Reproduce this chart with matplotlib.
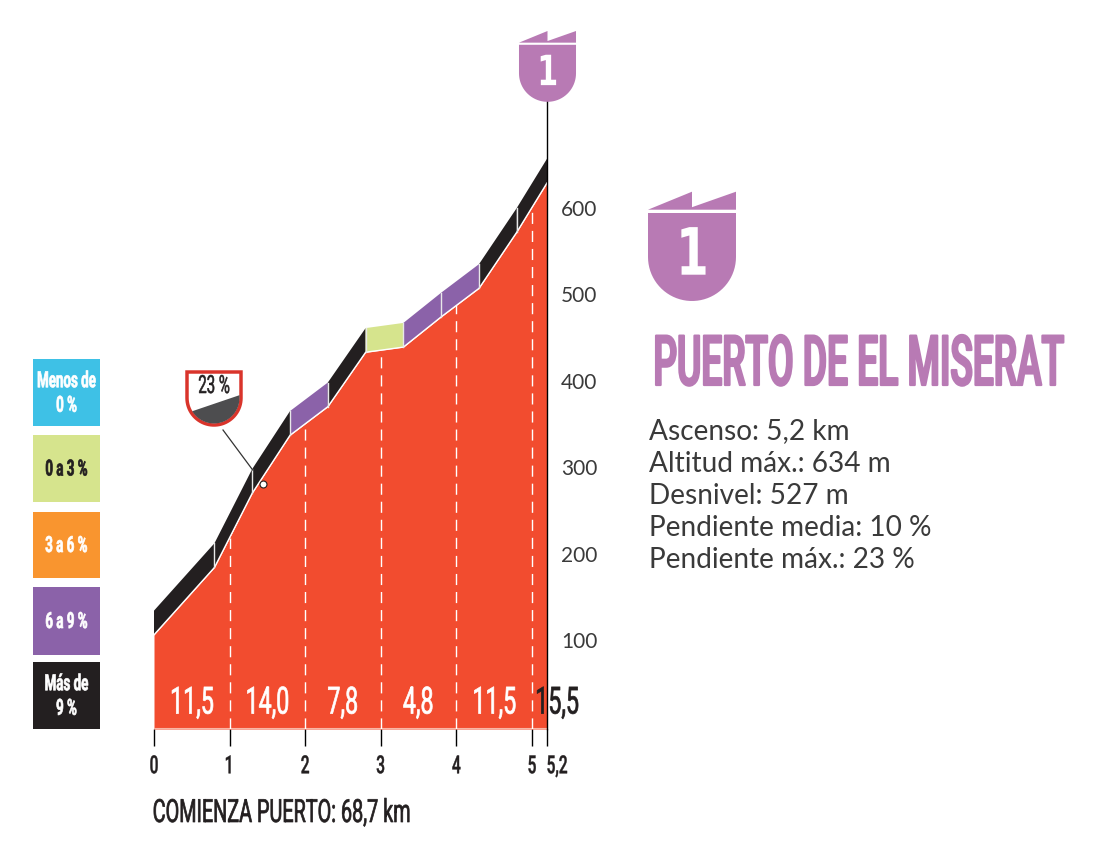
import numpy as np
import matplotlib
matplotlib.use("Agg")
import matplotlib.pyplot as plt
from matplotlib.patches import Polygon, Rectangle
from matplotlib.patheffects import AbstractPathEffect
from matplotlib.transforms import Affine2D, ScaledTranslation

# profile
km = [0, 0.8, 1.3, 1.8, 2.3, 2.8, 3.3, 3.8, 4.3, 4.8, 5.2]
altitude = [106, 184, 270, 337, 370, 433, 439, 474, 507, 572, 629]
band_colors = ["black", "black", "black", "purple", "black", "green", "purple", "purple", "black", "black"]

km_ticks = [0, 1, 2, 3, 4, 5, 5.2]
km_labels = ["0", "1", "2", "3", "4", "5", "5,2"]
alt_ticks = [100, 200, 300, 400, 500, 600]

gradients = ["11,5", "14,0", "7,8", "4,8", "11,5", "15,5"]
gradient_km = [0.5, 1.5, 2.5, 3.5, 4.5, 5.33]
gradient_colors = ["white", "white", "white", "white", "white", "#231f20"]

legend_labels = ["Menos de\n0 %", "0 a 3 %", "3 a 6 %", "6 a 9 %", "Más de\n9 %"]
legend_colors = ["#3ec1e6", "#d6e48d", "#f9952f", "#8b62a9", "#231f20"]
legend_text = ["white", "#231f20", "white", "white", "white"]

title = "PUERTO DE EL MISERAT"
start_text = "COMIENZA PUERTO: 68,7 km"
info_lines = ["Ascenso: 5,2 km", "Altitud máx.: 634 m", "Desnivel: 527 m",
              "Pendiente media: 10 %", "Pendiente máx.: 23 %"]
max_label = "23 %"
max_km = 1.44
max_alt = 281

RED = "#f24c2f"
BADGE = "#b87ab4"
DARK = "#231f20"
palette = {"black": "#231f20", "purple": "#8b62a9", "green": "#d6e48d"}
NARROW = ["Roboto", "DejaVu Sans"]
BAND = 28


class Condense(AbstractPathEffect):
    # squeeze the glyphs sideways, none of the installed fonts is narrow enough
    # stroke thickens the stems again after the squeeze
    def __init__(self, sx, anchor="center", stroke=0):
        super().__init__()
        self.sx = sx
        self.anchor = anchor
        self.stroke = stroke

    def draw_path(self, renderer, gc, tpath, affine, rgbFace=None):
        ext = tpath.get_extents()
        cx = ext.x0 if self.anchor == "left" else (ext.x0 + ext.x1) / 2
        t = Affine2D().translate(-cx, 0).scale(self.sx, 1).translate(cx, 0)
        gc0 = renderer.new_gc()
        gc0.copy_properties(gc)
        if self.stroke:
            gc0.set_linewidth(self.stroke)
            gc0.set_foreground(rgbFace)
        else:
            gc0.set_linewidth(0)
        renderer.draw_path(gc0, tpath, t + affine, rgbFace)
        gc0.restore()


def shield(x0, x1, top, n=40):
    # round bottom of a shield (pixel coords, y down)
    r = (x1 - x0) / 2
    t = np.linspace(np.pi, 0, n)
    return r, np.column_stack([(x0 + x1) / 2 + r * np.cos(t), top + r * np.sin(t)])


fig = plt.figure(figsize=(11, 8.5), dpi=100)
ax = fig.add_axes([154 / 1100, (850 - 729) / 850, 393 / 1100, 629 / 850])
ax.set_xlim(0, 5.2)
ax.set_ylim(-3, 725)
ax.patch.set_visible(False)

top = [a + BAND for a in altitude]
ax.fill_between(km, altitude, -3, color=RED, lw=0, zorder=2)
ax.plot(km, altitude, color="white", lw=1, zorder=4)
ax.axhline(-3, color="#f9b5a5", lw=1.5, zorder=3)
for i, c in enumerate(band_colors):
    pts = [(km[i], altitude[i]), (km[i + 1], altitude[i + 1]), (km[i + 1], top[i + 1]), (km[i], top[i])]
    ax.add_patch(Polygon(pts, closed=True, facecolor=palette[c], edgecolor="none", zorder=3))
    if i > 0:
        ax.plot([km[i], km[i]], [altitude[i], top[i]], color="#e8e8e8", lw=1, zorder=4)

for k in km_ticks[1:-1]:
    ax.plot([k, k], [-3, np.interp(k, km, altitude)], color="white", lw=1, dashes=(8, 5), zorder=4)

for g, k, c in zip(gradients, gradient_km, gradient_colors):
    ax.text(k, 27, g, ha="center", va="center", color=c, fontsize=27, family=NARROW,
            path_effects=[Condense(0.62, stroke=0.5)], zorder=6, clip_on=False)

for s in ["left", "top", "bottom"]:
    ax.spines[s].set_visible(False)
ax.spines["right"].set_color("black")
ax.spines["right"].set_linewidth(1)
ax.spines["right"].set_zorder(5)

ax.set_xticks(km_ticks, km_labels, family=NARROW, weight="medium", fontsize=18, color=DARK)
ax.tick_params(axis="x", length=12.2, width=1, color="black", pad=6)
for lab in ax.get_xticklabels():
    lab.set_path_effects([Condense(0.62, stroke=0.3)])
last = ax.get_xticklabels()[-1]
last.set_transform(last.get_transform() + ScaledTranslation(0.1, 0, fig.dpi_scale_trans))

ax.yaxis.tick_right()
ax.set_yticks(alt_ticks, [str(a) for a in alt_ticks], family="Lato", fontsize=15, color="#3a3a3a")
ax.tick_params(axis="y", length=0, pad=10)

ax.plot([max_km], [max_alt], "o", ms=5, mfc="white", mec=DARK, mew=0.8, zorder=7, clip_on=False)

# everything around the profile is placed in pixels on a second layer
ov = fig.add_axes([0, 0, 1, 1], zorder=10)
ov.set_xlim(0, 1100)
ov.set_ylim(850, 0)
ov.axis("off")

legend_y = [359, 435, 512, 587, 662]
legend_h = [67, 67, 66, 68, 67]
for y, h, lab, c, tc in zip(legend_y, legend_h, legend_labels, legend_colors, legend_text):
    ov.add_patch(Rectangle((33, y), 67, h, facecolor=c, edgecolor="none"))
    ov.text(66.5, y + h / 2 + 1, lab, ha="center", va="center", color=tc, fontsize=16, weight="bold",
            family=NARROW, linespacing=1.15, path_effects=[Condense(0.6, stroke=0.5)])


def badge(cx, top_y, scale, size):
    w = 44 * scale
    body = 213 - 191.7
    r, arc = shield(cx - w, cx + w, top_y + (257 - 191.7) * scale)
    body_top = top_y + body * scale
    pts = [(cx - w, body_top), *arc, (cx + w, body_top)]
    ov.add_patch(Polygon(pts, closed=True, facecolor=BADGE, edgecolor="none"))
    flag = [(cx - w, top_y + 18 * scale), (cx, top_y), (cx, top_y + 15.5 * scale), (cx + w, top_y),
            (cx + w, top_y + 18 * scale)]
    ov.add_patch(Polygon(flag, closed=True, facecolor=BADGE, edgecolor="none"))
    ov.text(cx, top_y + 65 * scale, "1", ha="center", va="center", color="white", fontsize=size,
            family="DejaVu Sans", weight="bold", path_effects=[Condense(0.72)])


badge(692, 191.7, 1, 47)
badge(547.5, 31, 0.648, 30)

r, arc = shield(187, 241, 398)
outline = Polygon([(187, 372), *arc, (241, 372)], closed=True, facecolor="white", edgecolor="#d9342b", lw=2.5, zorder=2)
ov.add_patch(outline)
wedge = Polygon([(190, 412), (240, 395), (240, 430), (190, 430)], closed=True, facecolor="#4d4d4f", edgecolor="none", zorder=3)
ov.add_patch(wedge)
wedge.set_clip_path(Polygon([(188.5, 373), *shield(188.5, 239.5, 398)[1], (239.5, 373)], closed=True, transform=ov.transData))
ov.text(214, 386, max_label, ha="center", va="center", color=DARK, fontsize=18, family=NARROW,
        path_effects=[Condense(0.6, stroke=0.4)], zorder=4)
ov.plot([223, 252.7], [430, 470], color="#333333", lw=0.9)

ov.text(651, 385, title, ha="left", va="baseline", color=BADGE, fontsize=50, weight="medium", family=NARROW,
        path_effects=[Condense(0.534, "left", stroke=1.6)])
for i, line in enumerate(info_lines):
    ov.text(649, 431.5 + 32 * i, line, ha="left", va="center", color="#3a3a3a", fontsize=20.2, family="Lato")

ov.text(152, 822, start_text, ha="left", va="baseline", color=DARK, fontsize=23, family=NARROW,
        path_effects=[Condense(0.62, "left", stroke=0.5)])

plt.savefig("out.png", dpi=100)
